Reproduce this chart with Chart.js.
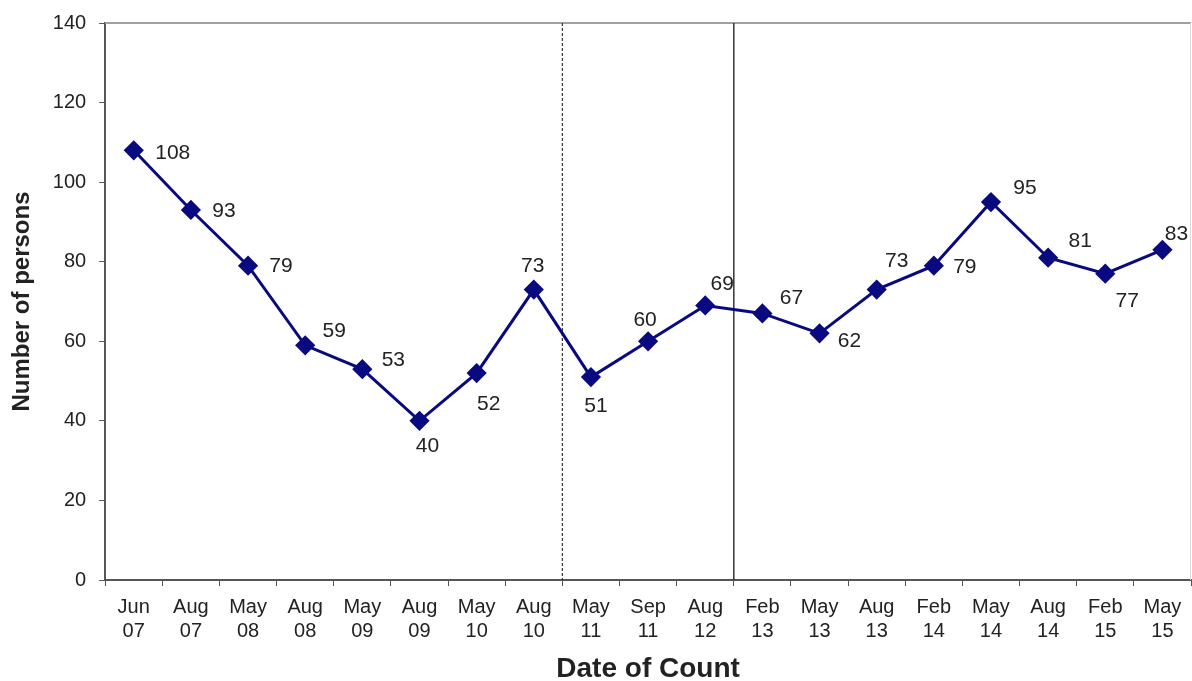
<!DOCTYPE html>
<html>
<head>
<meta charset="utf-8">
<script src="https://cdn.jsdelivr.net/npm/chart.js@4.4.0/dist/chart.umd.min.js"></script>
<style>
    html, body { margin: 0; padding: 0; background: #ffffff; }
    #wrap { width: 1192px; height: 681px; }
</style>
</head>
<body>
<div id="wrap"><canvas id="chart" width="1192" height="681"></canvas></div>
<script>
const months = ['Jun', 'Aug', 'May', 'Aug', 'May', 'Aug', 'May', 'Aug', 'May', 'Sep', 'Aug', 'Feb', 'May', 'Aug', 'Feb', 'May', 'Aug', 'Feb', 'May'];
const years = ['07', '07', '08', '08', '09', '09', '10', '10', '11', '11', '12', '13', '13', '13', '14', '14', '14', '15', '15'];
const persons = [108, 93, 79, 59, 53, 40, 52, 73, 51, 60, 69, 67, 62, 73, 79, 95, 81, 77, 83];
const yTicks = [0, 20, 40, 60, 80, 100, 120, 140];

// where each value label sits relative to its marker (px)
const labelOffsets = [
    [39, 3], [33, 1], [33, 1], [29, -14], [31, -9], [8, 25], [12, 31], [-1, -23],
    [5, 29], [-3, -21], [17, -21], [29, -15], [30, 8], [20, -28], [31, 2], [34, -14],
    [32, -17], [22, 28], [14, -16]
];

const labels = months.map((m, i) => [m, years[i]]);
const navy = '#0a0a80';
const FONT = '"Liberation Sans", Arial, sans-serif';

const frame = {
    id: 'frame',
    beforeDatasetsDraw(chart) {
        const { ctx, chartArea: a, scales: { x } } = chart;
        ctx.save();
        ctx.strokeStyle = '#a0a0a0';
        ctx.lineWidth = 2;
        ctx.beginPath();
        ctx.moveTo(a.left, a.top);
        ctx.lineTo(a.right, a.top);
        ctx.stroke();
        ctx.strokeStyle = '#d8d8d8';
        ctx.lineWidth = 1;
        ctx.beginPath();
        ctx.moveTo(a.right - 0.5, a.top);
        ctx.lineTo(a.right - 0.5, a.bottom);
        ctx.stroke();

        // survey-method break lines between categories
        const mid = (i) => (x.getPixelForValue(i) + x.getPixelForValue(i + 1)) / 2;
        ctx.strokeStyle = '#333333';
        ctx.lineWidth = 1.2;
        ctx.setLineDash([3, 2]);
        ctx.beginPath();
        ctx.moveTo(mid(7), a.top);
        ctx.lineTo(mid(7), a.bottom);
        ctx.stroke();
        ctx.setLineDash([]);
        ctx.lineWidth = 1.5;
        ctx.beginPath();
        ctx.moveTo(mid(10), a.top);
        ctx.lineTo(mid(10), a.bottom);
        ctx.stroke();
        ctx.restore();
    }
};

const valueLabels = {
    id: 'valueLabels',
    afterDatasetsDraw(chart) {
        const { ctx } = chart;
        const meta = chart.getDatasetMeta(0);
        ctx.save();
        ctx.fillStyle = '#222222';
        ctx.font = '21px ' + FONT;
        ctx.textAlign = 'center';
        ctx.textBaseline = 'middle';
        meta.data.forEach((pt, i) => {
            const [dx, dy] = labelOffsets[i];
            ctx.fillText(String(persons[i]), pt.x + dx, pt.y + dy);
        });
        ctx.restore();
    }
};

new Chart(document.getElementById('chart').getContext('2d'), {
    type: 'line',
    data: {
        labels: labels,
        datasets: [{
            label: 'Number of persons',
            data: persons,
            borderColor: navy,
            backgroundColor: navy,
            borderWidth: 3,
            pointStyle: 'rectRot',
            pointRadius: 8,
            pointBackgroundColor: navy,
            pointBorderColor: navy,
            tension: 0
        }]
    },
    options: {
        responsive: false,
        animation: false,
        layout: { autoPadding: false, padding: { top: 23, right: 1, left: 8, bottom: -2 } },
        plugins: {
            legend: { display: false },
            tooltip: { enabled: false }
        },
        scales: {
            x: {
                offset: true,
                afterFit(axis) {
                    axis.paddingLeft = 0;
                    axis.paddingRight = 0;
                },
                grid: {
                    offset: true,
                    drawOnChartArea: false,
                    drawTicks: true,
                    tickLength: 6,
                    color: '#555555'
                },
                border: { color: '#555555', width: 2 },
                ticks: {
                    color: '#222222',
                    maxRotation: 0,
                    autoSkip: false,
                    padding: 9,
                    font: { size: 20, family: FONT, lineHeight: 1.2 }
                },
                title: {
                    display: true,
                    text: 'Date of Count',
                    color: '#222222',
                    padding: { top: 3, bottom: 0 },
                    font: { size: 28, weight: 'bold', family: FONT, lineHeight: 1.0 }
                }
            },
            y: {
                min: 0,
                max: 140,
                afterBuildTicks(axis) {
                    axis.ticks = yTicks.map(v => ({ value: v }));
                },
                afterFit(axis) {
                    axis.paddingTop = 0;
                    axis.paddingBottom = 0;
                },
                grid: {
                    drawOnChartArea: false,
                    drawTicks: true,
                    tickLength: 6,
                    color: '#555555'
                },
                border: { color: '#555555', width: 2 },
                ticks: {
                    color: '#222222',
                    padding: 13,
                    font: { size: 20, family: FONT }
                },
                title: {
                    display: true,
                    text: 'Number of persons',
                    color: '#222222',
                    padding: { top: 0, bottom: 3 },
                    font: { size: 24, weight: 'bold', family: FONT, lineHeight: 1.2 }
                }
            }
        }
    },
    plugins: [frame, valueLabels]
});
</script>
</body>
</html>
